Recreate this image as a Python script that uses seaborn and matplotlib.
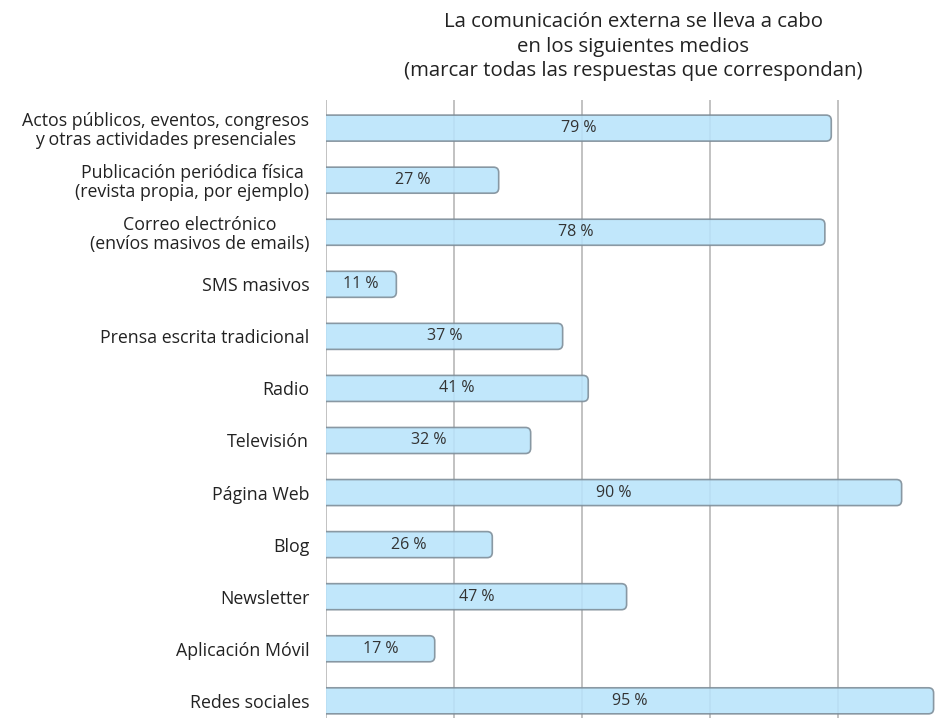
import matplotlib
matplotlib.use("Agg")
import matplotlib.pyplot as plt
import seaborn as sns
import pandas as pd
from matplotlib.patches import FancyBboxPatch

# datos
categorias = [
    "Actos públicos, eventos, congresos\ny otras actividades presenciales",
    "Publicación periódica física\n(revista propia, por ejemplo)",
    "Correo electrónico\n(envíos masivos de emails)",
    "SMS masivos",
    "Prensa escrita tradicional",
    "Radio",
    "Televisión",
    "Página Web",
    "Blog",
    "Newsletter",
    "Aplicación Móvil",
    "Redes sociales",
]
porcentajes = [79, 27, 78, 11, 37, 41, 32, 90, 26, 47, 17, 95]
titulo = ("La comunicación externa se lleva a cabo\nen los siguientes medios\n"
          "(marcar todas las respuestas que correspondan)")

df = pd.DataFrame({"medio": categorias, "pct": porcentajes})

sns.set_style("white")
plt.rcParams["font.family"] = ["Open Sans", "DejaVu Sans"]

fig = plt.figure(figsize=(9.46, 7.18), dpi=100)
ax = fig.add_axes([326 / 946, 0, 614 / 946, 618 / 718])

sns.barplot(data=df, x="pct", y="medio", orient="h", color="#bde6fb",
            width=0.5, ax=ax)

# barras redondeadas
fill = "#b9e4fb"
edge = "#7d8c97"
for p in list(ax.patches):
    x0, y0 = p.get_x(), p.get_y()
    w, h = p.get_width(), p.get_height()
    p.remove()
    fb = FancyBboxPatch((x0 - 2, y0), w + 2, h,
                        boxstyle="round,pad=0,rounding_size=0.8",
                        mutation_aspect=0.125,
                        facecolor=fill, edgecolor=edge, linewidth=1.2,
                        alpha=0.88, zorder=3, clip_on=True)
    ax.add_patch(fb)

for i, v in enumerate(porcentajes):
    ax.text(v / 2, i, f"{v} %", ha="center", va="center",
            fontsize=11.5, color="#333333", zorder=4)

ax.set_xlim(0, 96)
ax.set_ylim(11.33, -0.54)
ax.set_xticks([0, 20, 40, 60, 80])
ax.set_xticklabels([])
ax.grid(axis="x", color="#c2c2c2", linewidth=1.4, zorder=1)
ax.set_axisbelow(True)
ax.tick_params(axis="both", length=0)
ax.tick_params(axis="y", pad=12, labelsize=12.8, labelcolor="#222222")
for lbl in ax.get_yticklabels():
    lbl.set_multialignment("center")
    lbl.set_linespacing(1.05)
for s in ax.spines.values():
    s.set_visible(False)
ax.set_xlabel("")
ax.set_ylabel("")
ax.set_title(titulo, fontsize=14.7, color="#222222", pad=17, linespacing=1.31)

fig.savefig("out.png", dpi=100)
